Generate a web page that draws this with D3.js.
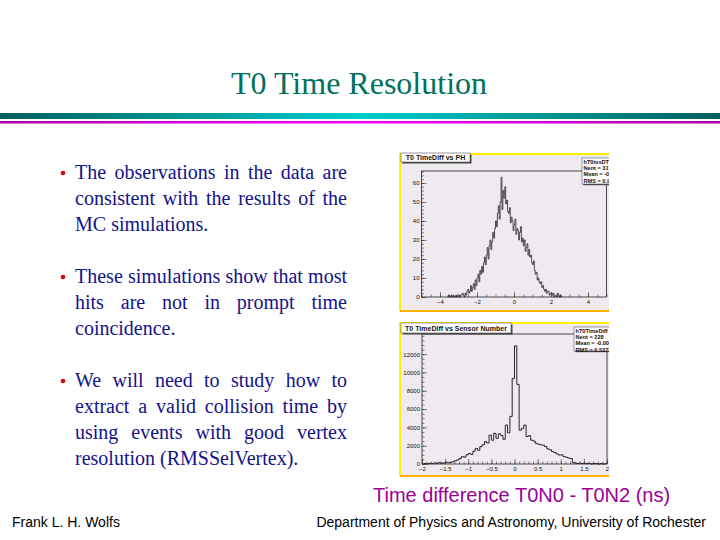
<!DOCTYPE html>
<html>
<head>
<meta charset="utf-8">
<script src="https://cdn.jsdelivr.net/npm/d3@7"></script>
<style>
  body { margin: 0; background: #fff; }
  svg { display: block; }
</style>
</head>
<body>
<div id="slide"></div>
<script>
// slide text
var slideTitle = "T0 Time Resolution";
var bullets = [
  ["The observations in the data are", "consistent with the results of the", "MC simulations."],
  ["These simulations show that most", "hits are not in prompt time", "coincidence."],
  ["We will need to study how to", "extract a valid collision time by", "using events with good vertex", "resolution (RMSSelVertex)."]
];
var caption = "Time difference T0N0 - T0N2 (ns)";
var footLeft = "Frank L. H. Wolfs";
var footRight = "Department of Physics and Astronomy, University of Rochester";

// top histogram: T0 TimeDiff vs PH, bins of 0.05 starting at -3.6
var phStart = -3.6, phBin = 0.05;
var phCounts = [
  0,1,0,0,1,0,1,0,0,1,0,1,
  1,0,1,1,2,1,0,2,1,3,
  4,2,3,6,3,5,7,4,9,6,
  10,12,8,14,12,16,13,18,21,17,
  22,26,20,27,30,25,29,34,31,36,
  40,37,44,48,41,50,63,46,56,52,
  58,49,51,45,44,47,39,42,40,35,
  38,41,33,36,35,30,34,37,29,31,
  27,30,24,26,28,22,25,21,22,18,
  17,19,14,12,13,9,10,8,7,8,
  5,6,4,3,4,2,3,3,1,2,
  2,1,2,0,1,1,0,2,1,0,
  1,0
];
var phTitle = "T0 TimeDiff vs PH";
var phStats = ["hT0tvsDT0_py", "Nent = 3172", "Mean = -0.2856", "RMS = 0.9556"];
var phXTicks = [-4, -2, 0, 2, 4];
var phYTicks = [0, 10, 20, 30, 40, 50, 60];

// bottom histogram: T0 TimeDiff vs Sensor Number, bins of 0.05 starting at -2
var snStart = -2, snBin = 0.05;
var snCounts = [
  0,60,0,80,40,100,60,150,80,120,
  200,150,180,250,350,450,600,800,750,1000,
  1150,1050,1400,1700,1500,1900,2100,2450,2300,3150,
  2600,3350,2800,3300,3100,2700,4250,3400,5200,9350,
  12900,8700,3700,3900,4250,3000,3100,2600,2500,2250,
  2150,2100,2050,1900,1650,1550,1350,1250,1100,980,
  1000,800,750,650,600,150,100,60,100,50,
  80,40,60,0,50,30,0,40,0,20
];
var snTitle = "T0 TimeDiff vs Sensor Number";
var snStats = ["hT0TimeDiff_py", "Nent = 228", "Mean = -0.006975", "RMS = 0.5372"];
var snXTicks = [-2, -1.5, -1, -0.5, 0, 0.5, 1, 1.5, 2];
var snYTicks = [0, 2000, 4000, 6000, 8000, 10000, 12000];

var W = 720, H = 540;
var svg = d3.select("#slide").append("svg")
    .attr("width", W)
    .attr("height", H);

var defs = svg.append("defs");
var g1 = defs.append("linearGradient").attr("id", "teal");
g1.append("stop").attr("offset", "0%").attr("stop-color", "#005f5f");
g1.append("stop").attr("offset", "50%").attr("stop-color", "#00cccc");
g1.append("stop").attr("offset", "100%").attr("stop-color", "#005f5f");
var g2 = defs.append("linearGradient").attr("id", "mag");
g2.append("stop").attr("offset", "0%").attr("stop-color", "#aa00aa");
g2.append("stop").attr("offset", "50%").attr("stop-color", "#ff00ff");
g2.append("stop").attr("offset", "100%").attr("stop-color", "#aa00aa");

// title and rules
svg.append("text")
    .attr("x", 359).attr("y", 94)
    .attr("text-anchor", "middle")
    .style("font-family", "'Liberation Serif', 'Times New Roman', serif")
    .style("font-size", "32px")
    .style("fill", "#00705f")
    .text(slideTitle);
svg.append("rect").attr("x", 0).attr("y", 113).attr("width", W).attr("height", 6).attr("fill", "url(#teal)");
svg.append("rect").attr("x", 0).attr("y", 121).attr("width", W).attr("height", 2.5).attr("fill", "url(#mag)");

// bullets, justified like the slide
var textLeft = 75, textRight = 347;
var baselines = [[179, 205, 231], [283, 309, 335], [387, 413, 439, 465]];
var serif = "'Liberation Serif', 'Times New Roman', serif";

bullets.forEach(function(lines, p) {
  svg.append("circle")
      .attr("cx", 63).attr("cy", baselines[p][0] - 6)
      .attr("r", 2.3)
      .attr("fill", "#ee0000");
  lines.forEach(function(line, i) {
    var y = baselines[p][i];
    var words = line.split(" ");
    var last = (i == lines.length - 1);
    var g = svg.append("g");
    var nodes = words.map(function(w) {
      return g.append("text")
          .attr("y", y)
          .style("font-family", serif)
          .style("font-size", "20px")
          .style("fill", "#13138a")
          .text(w);
    });
    var widths = nodes.map(function(n) { return n.node().getComputedTextLength(); });
    var total = d3.sum(widths);
    var gap = last || words.length < 2 ? 5 : (textRight - textLeft - total) / (words.length - 1);
    var x = textLeft;
    nodes.forEach(function(n, k) {
      n.attr("x", x);
      x += widths[k] + gap;
    });
  });
});

// ROOT style panel
function drawPanel(opt) {
  var panel = svg.append("g");
  panel.append("rect")
      .attr("x", opt.box[0]).attr("y", opt.box[1])
      .attr("width", opt.box[2]).attr("height", opt.box[3])
      .attr("fill", "#efeaef");
  // yellow border, orange bottom
  panel.append("path")
      .attr("d", "M" + (opt.box[0] + opt.box[2]) + "," + opt.box[1] + "H" + opt.box[0] + "V" + (opt.box[1] + opt.box[3]))
      .attr("fill", "none").attr("stroke", "#ffee00").attr("stroke-width", 2);
  panel.append("line")
      .attr("x1", opt.box[0]).attr("x2", opt.box[0] + opt.box[2])
      .attr("y1", opt.box[1] + opt.box[3]).attr("y2", opt.box[1] + opt.box[3])
      .attr("stroke", "#ffb000").attr("stroke-width", 2);

  var x = d3.scaleLinear().domain(opt.xDomain).range(opt.xRange);
  var y = d3.scaleLinear().domain(opt.yDomain).range(opt.yRange);

  // frame
  panel.append("rect")
      .attr("x", opt.xRange[0]).attr("y", opt.yRange[1])
      .attr("width", opt.xRange[1] - opt.xRange[0])
      .attr("height", opt.yRange[0] - opt.yRange[1])
      .attr("fill", "none").attr("stroke", "#222").attr("stroke-width", 0.8);

  // histogram as steps
  var pts = opt.counts.map(function(c, i) { return [opt.start + i * opt.bin, c]; });
  pts.push([opt.start + opt.counts.length * opt.bin, opt.counts[opt.counts.length - 1]]);
  var line = d3.line()
      .x(function(d) { return x(d[0]); })
      .y(function(d) { return y(d[1]); })
      .curve(d3.curveStepAfter);
  panel.append("path")
      .datum(pts)
      .attr("d", line)
      .attr("fill", "none")
      .attr("stroke", "#111")
      .attr("stroke-width", opt.lineW);

  var font = "'Liberation Sans', Arial, sans-serif";

  // axes, ticks pointing inside
  var yMinor = panel.append("g").attr("transform", "translate(" + opt.xRange[0] + ",0)")
      .call(d3.axisLeft(y).tickValues(d3.range(opt.yDomain[0], opt.yDomain[1], opt.yMinor)).tickSize(-2.5).tickFormat(""));
  var yMajor = panel.append("g").attr("transform", "translate(" + opt.xRange[0] + ",0)")
      .call(d3.axisLeft(y).tickValues(opt.yTicks).tickSize(-5).tickPadding(2).tickFormat(d3.format("d")));
  var xMinor = panel.append("g").attr("transform", "translate(0," + opt.yRange[0] + ")")
      .call(d3.axisBottom(x).tickValues(d3.range(opt.xDomain[0], opt.xDomain[1] + 1e-9, opt.xMinor)).tickSize(-2.5).tickFormat(""));
  var xMajor = panel.append("g").attr("transform", "translate(0," + opt.yRange[0] + ")")
      .call(d3.axisBottom(x).tickValues(opt.xTicks).tickSize(-5).tickPadding(3).tickFormat(d3.format("")));
  [yMinor, yMajor, xMinor, xMajor].forEach(function(a) {
    a.select(".domain").remove();
    a.selectAll("line").attr("stroke", "#333").attr("stroke-width", 0.6);
    a.selectAll("text").style("font-family", font).style("font-size", "6px").attr("fill", "#111");
  });

  // title box with shadow
  var tb = opt.titleBox;
  panel.append("rect").attr("x", tb[0] + 1.5).attr("y", tb[1] + 1.5).attr("width", tb[2]).attr("height", tb[3]).attr("fill", "#444");
  panel.append("rect").attr("x", tb[0]).attr("y", tb[1]).attr("width", tb[2]).attr("height", tb[3])
      .attr("fill", "#fff").attr("stroke", "#555").attr("stroke-width", 0.6);
  panel.append("text")
      .attr("x", tb[0] + tb[2] / 2).attr("y", tb[1] + tb[3] - 2.5)
      .attr("text-anchor", "middle")
      .style("font-family", font).style("font-size", "7px").style("font-weight", "bold")
      .attr("fill", "#111")
      .text(opt.title);

  // stats box, clipped at the panel edge
  var sb = opt.statsBox;
  var clipId = "clip" + Math.round(sb[1]);
  defs.append("clipPath").attr("id", clipId)
    .append("rect").attr("x", sb[0] - 2).attr("y", sb[1] - 2).attr("width", sb[2] + 2).attr("height", sb[3] + 4);
  var st = panel.append("g").attr("clip-path", "url(#" + clipId + ")");
  st.append("rect").attr("x", sb[0] + 1.2).attr("y", sb[1] + 1.2).attr("width", sb[2] + 4).attr("height", sb[3]).attr("fill", "#444");
  st.append("rect").attr("x", sb[0]).attr("y", sb[1]).attr("width", sb[2] + 4).attr("height", sb[3])
      .attr("fill", "#fff").attr("stroke", "#555").attr("stroke-width", 0.6);
  opt.stats.forEach(function(s, i) {
    st.append("text")
        .attr("x", sb[0] + 1.5).attr("y", sb[1] + 6 + i * 6.2)
        .style("font-family", font).style("font-size", "5.6px").style("font-weight", "bold")
        .attr("fill", "#111")
        .text(s);
  });
}

drawPanel({
  box: [400, 154, 209, 157],
  xDomain: [-5, 5], xRange: [421.5, 606.5],
  yDomain: [0, 66.3], yRange: [297, 171],
  counts: phCounts, start: phStart, bin: phBin, lineW: 0.7,
  xTicks: phXTicks, xMinor: 0.5, yTicks: phYTicks, yMinor: 2,
  title: phTitle, titleBox: [401, 153, 69, 9],
  stats: phStats, statsBox: [582, 158, 27, 26]
});

drawPanel({
  box: [400, 323, 209, 153],
  xDomain: [-2, 2], xRange: [422, 607],
  yDomain: [0, 14200], yRange: [464, 334],
  counts: snCounts, start: snStart, bin: snBin, lineW: 0.9,
  xTicks: snXTicks, xMinor: 0.1, yTicks: snYTicks, yMinor: 500,
  title: snTitle, titleBox: [401, 323, 110, 10],
  stats: snStats, statsBox: [574, 327, 35, 24]
});

// caption and footer
svg.append("text")
    .attr("x", 373).attr("y", 502)
    .style("font-family", "'Liberation Sans', Arial, sans-serif")
    .style("font-size", "20px")
    .style("fill", "#990099")
    .text(caption);
svg.append("text")
    .attr("x", 12).attr("y", 527)
    .style("font-family", "'Liberation Sans', Arial, sans-serif")
    .style("font-size", "14px")
    .style("fill", "#000")
    .text(footLeft);
svg.append("text")
    .attr("x", 706).attr("y", 527)
    .attr("text-anchor", "end")
    .style("font-family", "'Liberation Sans', Arial, sans-serif")
    .style("font-size", "14px")
    .style("fill", "#000")
    .text(footRight);
</script>
</body>
</html>
